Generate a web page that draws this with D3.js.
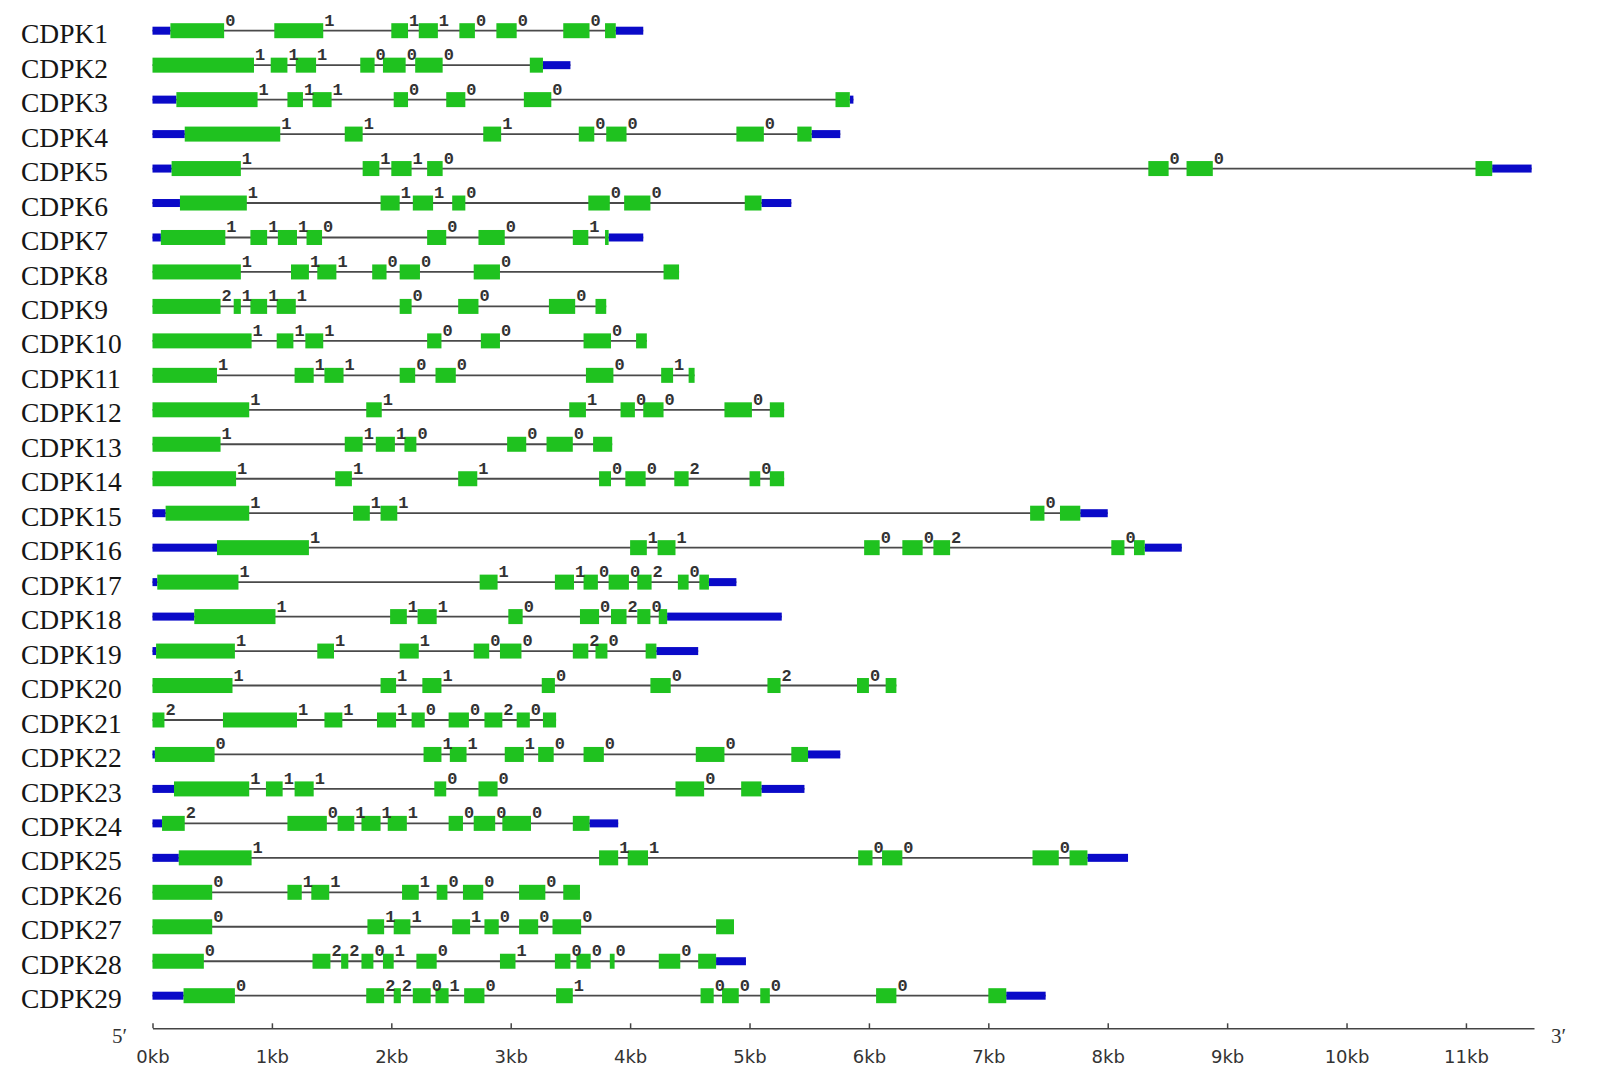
<html>
<head>
    <meta charset="utf-8" />
    <title>CDPK gene structure</title>
    <script src="https://cdn.jsdelivr.net/npm/d3@7/dist/d3.min.js"></script>
</head>
<style>
    body { margin: 0; background: #fff; }
    svg { display: block; }
    .name { font-family: "Liberation Serif", "Times New Roman", serif; font-size: 27.5px; fill: #151515; }
    .phase { font-family: "Liberation Mono", "Courier New", monospace; font-weight: bold; font-size: 17px; fill: #333; }
    .intron { stroke: #4a4a4a; stroke-width: 1.8px; }
    .exon { fill: #1fc21f; }
    .utr { fill: #0a0ac8; }
    .axis path, .axis line { stroke: #444; stroke-width: 1.5px; }
    .axis text { font-family: "DejaVu Sans", Verdana, sans-serif; font-size: 18px; fill: #333; }
    .end { font-family: "Liberation Serif", serif; font-size: 21px; fill: #333; }
</style>
<body>
<div id="viz"></div>
<script>
// gene names, one row each
var geneNames = ["CDPK1", "CDPK2", "CDPK3", "CDPK4", "CDPK5", "CDPK6", "CDPK7", "CDPK8", "CDPK9", "CDPK10",
    "CDPK11", "CDPK12", "CDPK13", "CDPK14", "CDPK15", "CDPK16", "CDPK17", "CDPK18", "CDPK19", "CDPK20",
    "CDPK21", "CDPK22", "CDPK23", "CDPK24", "CDPK25", "CDPK26", "CDPK27", "CDPK28", "CDPK29"];

// CDS exons [start, end] in kb
var exonKb = [
    [[0.15,0.60],[1.02,1.43],[2.00,2.14],[2.23,2.39],[2.57,2.70],[2.88,3.05],[3.44,3.66],[3.79,3.88]],
    [[0,0.85],[0.99,1.13],[1.20,1.37],[1.74,1.86],[1.93,2.12],[2.20,2.43],[3.16,3.27]],
    [[0.20,0.88],[1.13,1.26],[1.34,1.50],[2.02,2.14],[2.46,2.62],[3.11,3.34],[5.72,5.84]],
    [[0.27,1.07],[1.61,1.76],[2.77,2.92],[3.57,3.70],[3.80,3.97],[4.89,5.12],[5.40,5.52]],
    [[0.16,0.74],[1.76,1.90],[2.00,2.17],[2.30,2.43],[8.34,8.51],[8.66,8.88],[11.08,11.22]],
    [[0.23,0.79],[1.91,2.07],[2.18,2.35],[2.51,2.62],[3.65,3.83],[3.95,4.17],[4.96,5.10]],
    [[0.07,0.61],[0.82,0.96],[1.05,1.21],[1.29,1.42],[2.30,2.46],[2.73,2.95],[3.52,3.65],[3.79,3.82]],
    [[0,0.74],[1.16,1.31],[1.38,1.54],[1.84,1.96],[2.07,2.24],[2.69,2.91],[4.28,4.41]],
    [[0,0.57],[0.68,0.74],[0.82,0.96],[1.04,1.20],[2.07,2.17],[2.56,2.73],[3.32,3.54],[3.71,3.80]],
    [[0,0.83],[1.04,1.18],[1.28,1.43],[2.30,2.42],[2.75,2.91],[3.61,3.84],[4.05,4.14]],
    [[0,0.54],[1.19,1.35],[1.44,1.60],[2.07,2.20],[2.37,2.54],[3.63,3.86],[4.26,4.36],[4.49,4.54]],
    [[0,0.81],[1.79,1.92],[3.49,3.63],[3.92,4.04],[4.11,4.28],[4.79,5.02],[5.17,5.29]],
    [[0,0.57],[1.61,1.76],[1.87,2.03],[2.11,2.21],[2.97,3.13],[3.30,3.52],[3.69,3.85]],
    [[0,0.70],[1.53,1.67],[2.56,2.72],[3.74,3.84],[3.96,4.13],[4.37,4.49],[5.00,5.09],[5.17,5.29]],
    [[0.11,0.81],[1.68,1.82],[1.91,2.05],[7.35,7.47],[7.60,7.77]],
    [[0.54,1.31],[4.00,4.14],[4.23,4.38],[5.96,6.09],[6.28,6.45],[6.54,6.68],[8.03,8.14],[8.22,8.31]],
    [[0.04,0.72],[2.74,2.89],[3.37,3.53],[3.61,3.73],[3.82,3.99],[4.06,4.18],[4.40,4.49],[4.58,4.66]],
    [[0.35,1.03],[1.99,2.13],[2.22,2.38],[2.98,3.10],[3.58,3.74],[3.84,3.97],[4.06,4.17],[4.24,4.31]],
    [[0.03,0.69],[1.38,1.52],[2.07,2.23],[2.69,2.82],[2.91,3.09],[3.52,3.65],[3.71,3.81],[4.13,4.22]],
    [[0,0.67],[1.91,2.04],[2.26,2.42],[3.26,3.37],[4.17,4.34],[5.15,5.26],[5.90,6.00],[6.14,6.23]],
    [[0,0.10],[0.59,1.21],[1.44,1.59],[1.88,2.04],[2.17,2.28],[2.48,2.65],[2.78,2.93],[3.05,3.16],[3.27,3.38]],
    [[0.02,0.52],[2.27,2.42],[2.49,2.63],[2.95,3.11],[3.23,3.36],[3.61,3.78],[4.55,4.79],[5.35,5.49]],
    [[0.18,0.81],[0.95,1.09],[1.19,1.35],[2.36,2.46],[2.73,2.89],[4.38,4.62],[4.93,5.10]],
    [[0.08,0.27],[1.13,1.46],[1.55,1.69],[1.75,1.91],[1.97,2.13],[2.48,2.60],[2.69,2.87],[2.93,3.17],[3.52,3.66]],
    [[0.22,0.83],[3.74,3.90],[3.98,4.15],[5.91,6.03],[6.11,6.28],[7.37,7.59],[7.68,7.83]],
    [[0,0.50],[1.13,1.25],[1.33,1.48],[2.09,2.23],[2.38,2.47],[2.60,2.77],[3.07,3.29],[3.44,3.58]],
    [[0,0.50],[1.80,1.94],[2.02,2.16],[2.51,2.66],[2.78,2.90],[3.07,3.23],[3.35,3.59],[4.72,4.87]],
    [[0,0.43],[1.34,1.49],[1.58,1.64],[1.75,1.85],[1.93,2.02],[2.21,2.38],[2.91,3.04],[3.37,3.50],[3.55,3.67],[3.83,3.87],[4.24,4.42],[4.57,4.72]],
    [[0.26,0.69],[1.79,1.94],[2.02,2.08],[2.18,2.33],[2.37,2.48],[2.61,2.78],[3.38,3.52],[4.59,4.70],[4.77,4.91],[5.09,5.17],[6.06,6.23],[7.00,7.15]]
];

// UTR pieces [start, end] in kb
var utrKb = [
    [[0,0.15],[3.88,4.11]],
    [[3.27,3.50]],
    [[0,0.20],[5.84,5.87]],
    [[0,0.27],[5.52,5.76]],
    [[0,0.16],[11.22,11.55]],
    [[0,0.23],[5.10,5.35]],
    [[0,0.07],[3.82,4.11]],
    [], [], [], [], [], [], [],
    [[0,0.11],[7.77,8.00]],
    [[0,0.54],[8.31,8.62]],
    [[0,0.04],[4.66,4.89]],
    [[0,0.35],[4.31,5.27]],
    [[0,0.03],[4.22,4.57]],
    [], [],
    [[0,0.02],[5.49,5.76]],
    [[0,0.18],[5.10,5.46]],
    [[0,0.08],[3.66,3.90]],
    [[0,0.22],[7.83,8.17]],
    [], [],
    [[4.72,4.97]],
    [[0,0.26],[7.15,7.48]]
];

// intron phase after each exon
var phases = [
    [0,1,1,1,0,0,0],
    [1,1,1,0,0,0],
    [1,1,1,0,0,0],
    [1,1,1,0,0,0],
    [1,1,1,0,0,0],
    [1,1,1,0,0,0],
    [1,1,1,0,0,0,1],
    [1,1,1,0,0,0],
    [2,1,1,1,0,0,0],
    [1,1,1,0,0,0],
    [1,1,1,0,0,0,1],
    [1,1,1,0,0,0],
    [1,1,1,0,0,0],
    [1,1,1,0,0,2,0],
    [1,1,1,0],
    [1,1,1,0,0,2,0],
    [1,1,1,0,0,2,0],
    [1,1,1,0,0,2,0],
    [1,1,1,0,0,2,0],
    [1,1,1,0,0,2,0],
    [2,1,1,1,0,0,2,0],
    [0,1,1,1,0,0,0],
    [1,1,1,0,0,0],
    [2,0,1,1,1,0,0,0],
    [1,1,1,0,0,0],
    [0,1,1,1,0,0,0],
    [0,1,1,1,0,0,0],
    [0,2,2,0,1,0,1,0,0,0,0],
    [0,2,2,0,1,0,1,0,0,0,0]
];

var tickKb = [0, 1, 2, 3, 4, 5, 6, 7, 8, 9, 10, 11];
var axisMaxKb = 11.57;

var W = 1600, H = 1091;
var svg = d3.select("#viz").append("svg").attr("width", W).attr("height", H);

var x = d3.scaleLinear().domain([0, axisMaxKb]).range([152.5, 1534]);
var y = d3.scalePoint().domain(geneNames).range([30.7, 995.7]);

var genes = geneNames.map(function(name, i) {
    var all = exonKb[i].concat(utrKb[i]);
    return {
        name: name,
        exons: exonKb[i],
        utrs: utrKb[i],
        phases: phases[i],
        start: d3.min(all, function(d) { return d[0]; }),
        end: d3.max(all, function(d) { return d[1]; })
    };
});

var rows = svg.selectAll("g.gene")
    .data(genes)
    .enter()
    .append("g")
    .classed("gene", true)
    .attr("transform", function(d) { return "translate(0," + y(d.name) + ")"; });

rows.append("text")
    .classed("name", true)
    .attr("x", 21)
    .attr("y", 12.6)
    .text(function(d) { return d.name; });

rows.append("line")
    .classed("intron", true)
    .attr("x1", function(d) { return x(d.start); })
    .attr("x2", function(d) { return x(d.end); })
    .attr("y1", 0).attr("y2", 0);

rows.selectAll("rect.utr")
    .data(function(d) { return d.utrs; })
    .enter()
    .append("rect")
    .classed("utr", true)
    .attr("x", function(d) { return x(d[0]); })
    .attr("width", function(d) { return x(d[1]) - x(d[0]); })
    .attr("y", -4)
    .attr("height", 8);

rows.selectAll("rect.exon")
    .data(function(d) { return d.exons; })
    .enter()
    .append("rect")
    .classed("exon", true)
    .attr("x", function(d) { return x(d[0]); })
    .attr("width", function(d) { return x(d[1]) - x(d[0]); })
    .attr("y", -7.5)
    .attr("height", 15);

// phase number sits just after the exon where each intron begins
rows.selectAll("text.phase")
    .data(function(d) {
        return d.phases.map(function(p, j) { return { p: p, at: d.exons[j][1] }; });
    })
    .enter()
    .append("text")
    .classed("phase", true)
    .attr("x", function(d) { return x(d.at) + 1; })
    .attr("y", -5)
    .text(function(d) { return d.p; });

var axisY = 1028.3;
svg.append("g")
    .classed("axis", true)
    .attr("transform", "translate(0," + axisY + ")")
    .call(d3.axisBottom(x)
        .tickValues(tickKb)
        .tickSize(-5)
        .tickSizeOuter(0)
        .tickPadding(22)
        .tickFormat(function(d) { return d + "kb"; }))
    .call(function(g) { g.select(".domain").attr("stroke", "#444"); });

svg.append("text").classed("end", true)
    .attr("x", 127).attr("y", axisY + 15)
    .attr("text-anchor", "end")
    .text("5\u2032");

svg.append("text").classed("end", true)
    .attr("x", 1551).attr("y", axisY + 15)
    .text("3\u2032");
</script>
</body>
</html>
